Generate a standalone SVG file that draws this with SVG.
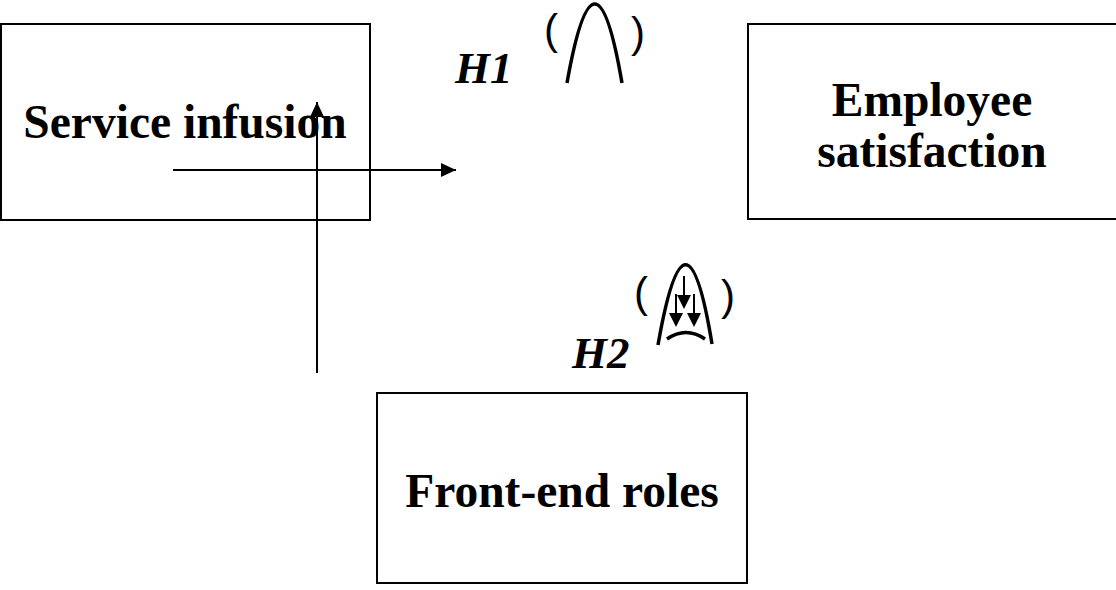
<svg xmlns="http://www.w3.org/2000/svg" width="1116" height="590" viewBox="0 0 1116 590">
  <style>
    .box { fill: #ffffff; stroke: #000000; stroke-width: 2; }
    .label { font-family: "Liberation Serif", "Times New Roman", serif; font-weight: bold; font-size: 47.5px; fill: #000000; text-anchor: middle; }
    .hyp { font-family: "Liberation Serif", "Times New Roman", serif; font-weight: bold; font-style: italic; font-size: 45px; fill: #000000; }
    .paren { font-family: "Liberation Sans", Arial, sans-serif; font-size: 42px; fill: #000000; }
    .conn { stroke: #000000; stroke-width: 2; fill: none; }
    .sym { stroke: #000000; stroke-width: 3.5; fill: none; stroke-linecap: butt; }
    .symthin { stroke: #000000; stroke-width: 2; fill: none; }
    .head { fill: #000000; stroke: none; }
  </style>
  <defs>
    <marker id="arrow" markerUnits="userSpaceOnUse" markerWidth="16" markerHeight="14" refX="15" refY="7" orient="auto">
      <path d="M0,0 L15,7 L0,14 z" fill="#000000"/>
    </marker>
  </defs>
  <rect width="1116" height="590" fill="#ffffff"/>

  <g id="node-service-infusion">
    <rect class="box" x="1" y="24" width="369" height="196"/>
    <text class="label" x="185" y="138">Service infusion</text>
  </g>

  <g id="node-employee-satisfaction">
    <rect class="box" x="748" y="24" width="372" height="195"/>
    <text class="label" x="932" y="116">Employee</text>
    <text class="label" x="932" y="167">satisfaction</text>
  </g>

  <g id="node-front-end-roles">
    <rect class="box" x="377" y="393" width="370" height="190"/>
    <text class="label" x="562" y="507">Front-end roles</text>
  </g>

  <g id="connectors">
    <line class="conn" x1="173" y1="170" x2="456" y2="170" marker-end="url(#arrow)"/>
    <line class="conn" x1="317" y1="373" x2="317" y2="102" marker-end="url(#arrow)"/>
  </g>

  <g id="label-h1">
    <text class="hyp" x="455" y="83">H1</text>
    <text class="paren" x="544" y="44">(</text>
    <text class="paren" x="631" y="47">)</text>
    <path class="sym" d="M567,83 Q595,-75 622,83"/>
  </g>

  <g id="label-h2">
    <text class="hyp" x="572" y="368">H2</text>
    <text class="paren" x="634" y="307">(</text>
    <text class="paren" x="721" y="310">)</text>
    <path class="sym" d="M658,345 Q686,185 712,344"/>
    <path class="sym" d="M667,339 Q686,326 705,339"/>
    <line class="symthin" x1="684" y1="276" x2="684" y2="296"/>
    <polygon class="head" points="677,295 691,295 684,309"/>
    <line class="symthin" x1="676" y1="294" x2="676" y2="314"/>
    <polygon class="head" points="669,313 683,313 676,327"/>
    <line class="symthin" x1="694" y1="294" x2="694" y2="314"/>
    <polygon class="head" points="687,313 701,313 694,327"/>
  </g>
</svg>
